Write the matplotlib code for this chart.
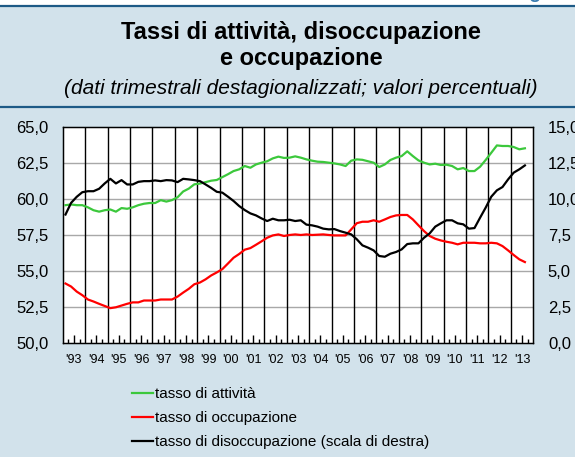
import numpy as np
import matplotlib
matplotlib.use("Agg")
import matplotlib.pyplot as plt
from matplotlib.patches import Rectangle
from matplotlib.lines import Line2D

plt.rcParams["font.family"] = ["Liberation Sans", "DejaVu Sans"]

# quarterly data 1993 Q1 - 2013 Q3
attivita = [
    59.55, 59.6, 59.55, 59.55,
    59.4, 59.2, 59.1, 59.2,
    59.25, 59.1, 59.35, 59.3,
    59.4, 59.55, 59.65, 59.7,
    59.7, 59.9, 59.8, 59.9,
    60.1, 60.5, 60.7, 61.0,
    61.05, 61.15, 61.25, 61.3,
    61.5, 61.7, 61.92, 62.04,
    62.27, 62.15, 62.38, 62.5,
    62.6, 62.8, 62.92, 62.83,
    62.85, 62.94, 62.85, 62.73,
    62.64, 62.57, 62.55, 62.5,
    62.45, 62.38, 62.27, 62.64,
    62.73, 62.7, 62.6, 62.5,
    62.2, 62.38, 62.69, 62.85,
    62.96, 63.29, 62.96, 62.66,
    62.5, 62.38, 62.43, 62.34,
    62.36, 62.27, 62.04, 62.13,
    61.92, 61.92, 62.22, 62.69,
    63.19, 63.7, 63.66, 63.66,
    63.59, 63.43, 63.5,
]
occupazione = [
    54.11, 53.9, 53.55, 53.3,
    53.0, 52.86, 52.7, 52.55,
    52.4, 52.46, 52.58, 52.7,
    52.8, 52.8, 52.93, 52.93,
    52.93, 53.0, 53.0, 53.0,
    53.2, 53.48, 53.74, 54.06,
    54.18, 54.4, 54.67, 54.88,
    55.11, 55.5, 55.9, 56.16,
    56.46, 56.57, 56.8, 57.04,
    57.29, 57.45, 57.52, 57.41,
    57.48, 57.52, 57.48, 57.52,
    57.48, 57.5, 57.52, 57.48,
    57.45, 57.45, 57.45, 57.87,
    58.3, 58.4, 58.4, 58.5,
    58.4, 58.56, 58.73, 58.84,
    58.87, 58.87, 58.56, 58.15,
    57.75, 57.41, 57.22, 57.1,
    57.01, 56.94, 56.83, 56.94,
    56.94, 56.94, 56.9, 56.9,
    56.94, 56.9, 56.71, 56.41,
    56.09, 55.79, 55.6,
]
disoccupazione = [
    8.9, 9.71, 10.13, 10.45,
    10.52, 10.52, 10.69, 11.06,
    11.38, 11.06, 11.29, 10.99,
    10.99, 11.17, 11.22, 11.22,
    11.27, 11.22, 11.29, 11.27,
    11.15, 11.38, 11.34, 11.29,
    11.22, 10.99, 10.75, 10.48,
    10.42, 10.14, 9.84, 9.49,
    9.21, 8.98, 8.84, 8.63,
    8.45, 8.61, 8.5, 8.5,
    8.54, 8.45, 8.5, 8.2,
    8.15, 8.06, 7.92, 7.87,
    7.89, 7.75, 7.64, 7.52,
    7.18, 6.76, 6.6, 6.41,
    6.02, 5.97, 6.18, 6.3,
    6.48, 6.85, 6.9, 6.9,
    7.29, 7.59, 8.06, 8.29,
    8.5, 8.5, 8.29, 8.22,
    7.92, 7.96, 8.68, 9.38,
    10.14, 10.58, 10.81, 11.34,
    11.81, 12.04, 12.31,
]
years = list(range(1993, 2014))
labels = ["tasso di attività", "tasso di occupazione",
          "tasso di disoccupazione (scala di destra)"]

green = "#3cc83c"
bg = "#d2e2eb"
dark = "#1d5a86"

# x positions: quarter midpoints
t = np.array([1993 + (i + 0.5) / 4 for i in range(len(attivita))])

fig = plt.figure(figsize=(5.75, 4.57), dpi=100, facecolor=bg)

# header strip and rules
fig.patches.append(Rectangle((0, 1 - 5 / 457), 1, 5 / 457, transform=fig.transFigure,
                             facecolor="white", edgecolor="none", zorder=0))
fig.add_artist(Line2D([0, 1], [1 - 5.5 / 457] * 2, color=dark, lw=1.6))
fig.add_artist(Line2D([0, 1], [1 - 107 / 457] * 2, color=dark, lw=1.6))
fig.text(0.995, 1 + 6 / 457, "Figura", color="#3a7cb0", fontsize=14, fontweight="bold",
         ha="right", va="center")

cx = 0.524
fig.text(cx, 1 - 32 / 457, "Tassi di attività, disoccupazione", ha="center", va="center",
         fontsize=17, fontweight="bold")
fig.text(cx, 1 - 58 / 457, "e occupazione", ha="center", va="center",
         fontsize=17, fontweight="bold")
fig.text(cx, 1 - 88 / 457, "(dati trimestrali destagionalizzati; valori percentuali)",
         ha="center", va="center", fontsize=15, style="italic")

ax = fig.add_axes([62.7 / 575, 1 - 342.7 / 457, (533.3 - 62.7) / 575, 216 / 457])
ax.set_facecolor("white")
ax.set_xlim(1993, 2014)
ax.set_ylim(50, 65)
ax.set_yticks(np.arange(50, 65.1, 2.5))
ax.set_yticklabels([f"{v:.1f}".replace(".", ",") for v in np.arange(50, 65.1, 2.5)])
ax.tick_params(axis="y", length=0, labelsize=12, pad=10)
for v in np.arange(52.5, 65, 2.5):
    ax.axhline(v, color="#a8a8a8", lw=1, zorder=1)
for y in years[1:]:
    ax.axvline(y, color="black", lw=1, zorder=1)

ax.set_xticks([y + 0.5 for y in years])
ax.set_xticklabels(["'" + str(y)[2:] for y in years])
ax.set_xticks([y + q for y in years for q in (0.25, 0.75)], minor=True)
ax.tick_params(axis="x", which="major", direction="in", length=6, width=1,
               labelsize=9, pad=8)
ax.tick_params(axis="x", which="minor", direction="in", length=3, width=1)
for s in ax.spines.values():
    s.set_linewidth(1)

l1, = ax.plot(t, attivita, color=green, lw=1.6, zorder=3)
l2, = ax.plot(t, occupazione, color="red", lw=1.6, zorder=3)

ax2 = ax.twinx()
ax2.set_ylim(0, 15)
ax2.set_yticks(np.arange(0, 15.1, 2.5))
ax2.set_yticklabels([f"{v:.1f}".replace(".", ",") for v in np.arange(0, 15.1, 2.5)])
ax2.tick_params(axis="y", length=0, labelsize=12, pad=10.5)
l3, = ax2.plot(t, disoccupazione, color="black", lw=1.6, zorder=3)

fig.legend([l1, l2, l3], labels, loc="upper left",
           bbox_to_anchor=(132 / 575, 1 - 387 / 457), frameon=False, fontsize=11,
           handlelength=1.4, handletextpad=0.12, labelspacing=0.67,
           borderpad=0, borderaxespad=0)

fig.savefig("out.png", dpi=100, facecolor=bg)
